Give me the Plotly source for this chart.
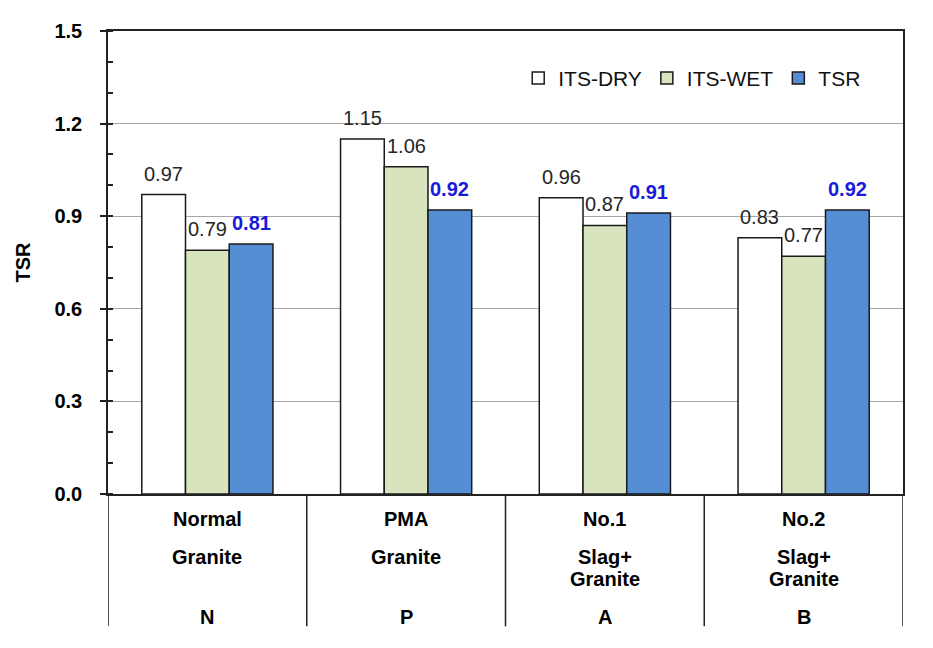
import plotly.graph_objects as go

categories = ["N", "P", "A", "B"]
cat_line1 = ["Normal", "PMA", "No.1", "No.2"]
cat_line2 = [["Granite"], ["Granite"], ["Slag+", "Granite"], ["Slag+", "Granite"]]
cat_line3 = ["N", "P", "A", "B"]

its_dry = [0.97, 1.15, 0.96, 0.83]
its_wet = [0.79, 1.06, 0.87, 0.77]
tsr = [0.81, 0.92, 0.91, 0.92]

series_names = ["ITS-DRY", "ITS-WET", "TSR"]
series_values = [its_dry, its_wet, tsr]
series_colors = ["#ffffff", "#d7e4bd", "#558ed5"]

BARGAP = 0.34
FONT = "Arial, Liberation Sans, sans-serif"

fig = go.Figure()
for name, vals, col in zip(series_names, series_values, series_colors):
    fig.add_trace(go.Bar(
        x=categories, y=vals, name=name,
        marker=dict(color=col, line=dict(color="#1a1a1a", width=1.5)),
    ))

annotations = []
bw = (1 - BARGAP) / 3
for j, vals in enumerate(series_values):
    for i, v in enumerate(vals):
        is_tsr = j == 2
        annotations.append(dict(
            x=i + (j - 1) * bw, y=v, xref="x", yref="y",
            text=f"<b>{v:.2f}</b>" if is_tsr else f"{v:.2f}",
            showarrow=False, yanchor="bottom", yshift=8,
            font=dict(family=FONT, size=20, color="#1a1adb" if is_tsr else "#262626"),
        ))

# category labels below axis
def add_label(i, text, dy):
    annotations.append(dict(
        x=i, y=0, xref="x", yref="paper", text=f"<b>{text}</b>",
        showarrow=False, yanchor="middle", yshift=-dy,
        font=dict(family=FONT, size=20, color="#000000"),
    ))

for i in range(len(categories)):
    add_label(i, cat_line1[i], 25)
    l2 = cat_line2[i]
    if len(l2) == 1:
        add_label(i, l2[0], 63)
    else:
        add_label(i, l2[0], 63)
        add_label(i, l2[1], 85)
    add_label(i, cat_line3[i], 123)

shapes = []
ext = -(628 - 494) / 469
for k in range(len(categories) + 1):
    shapes.append(dict(type="line", xref="x", yref="paper",
                       x0=k - 0.5, x1=k - 0.5, y0=ext, y1=0,
                       line=dict(color="#222222", width=1.5)))

fig.update_layout(
    width=933, height=648,
    margin=dict(l=100, r=38, t=17, b=162),
    paper_bgcolor="white", plot_bgcolor="white",
    barmode="group", bargap=BARGAP, bargroupgap=0,
    font=dict(family=FONT, color="#000000"),
    showlegend=True,
    legend=dict(orientation="h", x=0.516, xanchor="left", y=0.898, yanchor="middle",
                font=dict(family=FONT, size=21, color="#111111"),
                bgcolor="rgba(0,0,0,0)", itemclick=False),
    annotations=annotations,
    shapes=shapes,
    xaxis=dict(showticklabels=False, ticks="", showline=True, mirror=True,
               linecolor="#222222", linewidth=1.5, showgrid=False,
               range=[-0.5, len(categories) - 0.5]),
    yaxis=dict(range=[0, 1.5], dtick=0.3, tick0=0, tickformat=".1f",
               ticks="outside", ticklen=6, tickcolor="#222222", tickwidth=1.5,
               ticklabelstandoff=14,
               showline=True, mirror=True, linecolor="#222222", linewidth=1.5,
               showgrid=True, gridcolor="#a6a6a6", gridwidth=1,
               zeroline=False,
               minor=dict(dtick=0.1, ticks="inside", ticklen=5, tickcolor="#222222",
                          showgrid=False),
               tickfont=dict(family=FONT, size=20, color="#000000", weight="bold"),
               title=dict(text="<b>TSR</b>", font=dict(family=FONT, size=20, color="#000000"),
                          standoff=18)),
)

fig.write_html("out.html")
